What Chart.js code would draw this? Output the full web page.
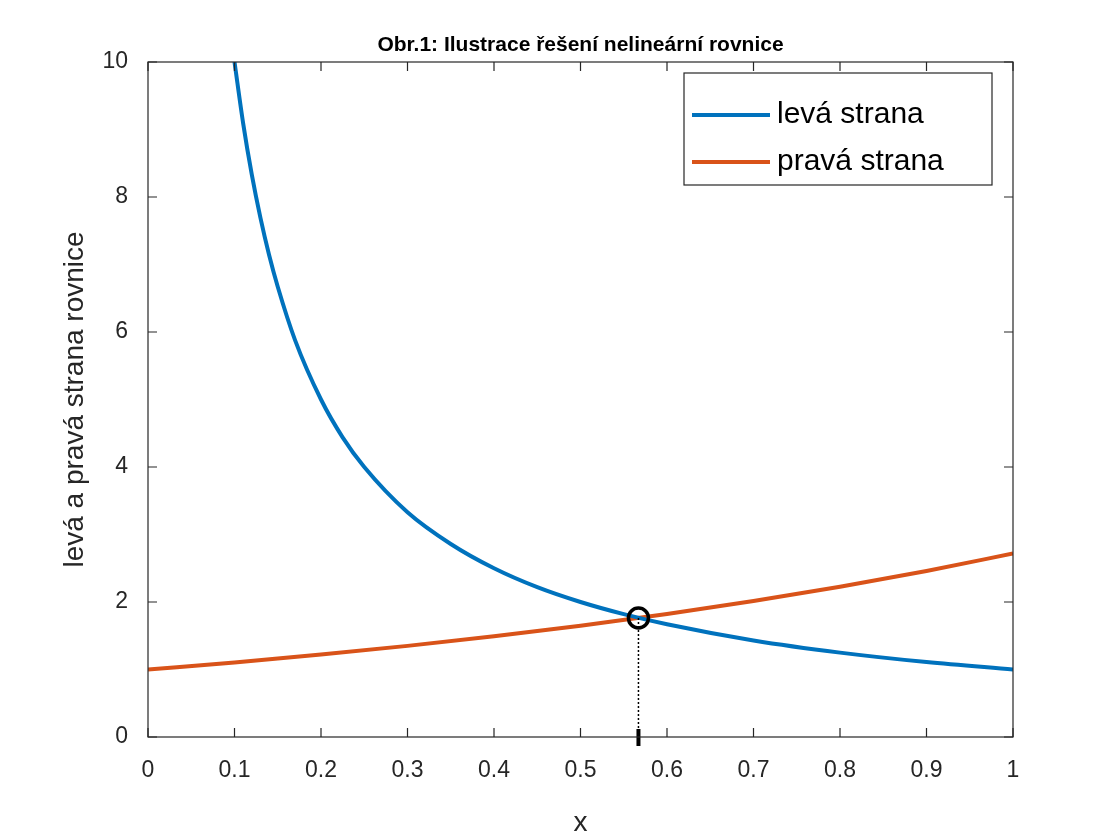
<!DOCTYPE html>
<html><head><meta charset="utf-8">
<script src="https://cdn.jsdelivr.net/npm/chart.js@4"></script>
<style>html,body{margin:0;padding:0;background:#fff}#c{display:block}</style>
</head><body>
<canvas id="c" width="1120" height="840"></canvas>
<script>
const titleText = "Obr.1: Ilustrace řešení nelineární rovnice";
const xLabel = "x";
const yLabel = "levá a pravá strana rovnice";
const seriesNames = ["levá strana", "pravá strana"];
const leftX = [0.1,0.11,0.12,0.13,0.14,0.15,0.17,0.2,0.225,0.25,0.3,0.35,0.4,0.45,0.5,0.55,0.6,0.7,0.8,0.9,1.0];
const leftY = [10,9.09,8.33,7.69,7.14,6.67,5.88,5.0,4.44,4.0,3.33,2.86,2.5,2.22,2.0,1.82,1.67,1.43,1.25,1.11,1.0];
const rightX = [0,0.1,0.2,0.3,0.4,0.5,0.6,0.7,0.8,0.9,1.0];
const rightY = [1.0,1.105,1.221,1.35,1.492,1.649,1.822,2.014,2.226,2.46,2.718];
const rootX = 0.567, rootY = 1.763;
const xTicks = [0,0.1,0.2,0.3,0.4,0.5,0.6,0.7,0.8,0.9,1];
const yTicks = [0,2,4,6,8,10];
const FONT = "'Liberation Sans', Arial, sans-serif";

const deco = {
  id:'deco',
  afterDraw(ch){
    const c=ch.ctx, a=ch.chartArea, xs=ch.scales.x, ys=ch.scales.y;
    c.save();
    const px=xs.getPixelForValue(rootX), py=ys.getPixelForValue(rootY), p0=ys.getPixelForValue(0);
    c.strokeStyle='#000'; c.lineWidth=1.5; c.setLineDash([2,2]);
    c.beginPath(); c.moveTo(px,py); c.lineTo(px,p0); c.stroke(); c.setLineDash([]);
    c.lineWidth=4; c.beginPath(); c.moveTo(px,p0-8); c.lineTo(px,p0+9); c.stroke();
    c.lineWidth=3.5; c.beginPath(); c.arc(px,py,10,0,Math.PI*2); c.stroke();
    c.strokeStyle='#262626'; c.lineWidth=1.2;
    c.strokeRect(a.left,a.top,a.right-a.left,a.bottom-a.top);
    c.beginPath();
    xTicks.forEach(v=>{const x=xs.getPixelForValue(v); c.moveTo(x,a.bottom); c.lineTo(x,a.bottom-9); c.moveTo(x,a.top); c.lineTo(x,a.top+9);});
    yTicks.forEach(v=>{const y=ys.getPixelForValue(v); c.moveTo(a.left,y); c.lineTo(a.left+9,y); c.moveTo(a.right,y); c.lineTo(a.right-9,y);});
    c.stroke();
    c.fillStyle='#000'; c.font="bold 21px "+FONT; c.textAlign='center'; c.textBaseline='middle';
    c.fillText(titleText,(a.left+a.right)/2,45);
    c.fillStyle='#fff'; c.fillRect(684,73,308,112);
    c.strokeStyle='#262626'; c.lineWidth=1.2; c.strokeRect(684,73,308,112);
    const cols=['#0072BD','#D95319'];
    c.font="30px "+FONT; c.textAlign='left';
    [115,162].forEach((y,i)=>{c.strokeStyle=cols[i]; c.lineWidth=4; c.beginPath(); c.moveTo(692,y); c.lineTo(770,y); c.stroke();
      c.fillStyle='#000'; c.fillText(seriesNames[i],777,y);});
    c.restore();
  }
};

new Chart(document.getElementById('c'),{
  type:'line',
  data:{datasets:[
    {label:seriesNames[0],data:leftX.map((x,i)=>({x,y:leftY[i]})),borderColor:'#0072BD',borderWidth:4,pointRadius:0,cubicInterpolationMode:'monotone'},
    {label:seriesNames[1],data:rightX.map((x,i)=>({x,y:rightY[i]})),borderColor:'#D95319',borderWidth:4,pointRadius:0,cubicInterpolationMode:'monotone'}
  ]},
  options:{
    responsive:false, animation:false, devicePixelRatio:1,
    layout:{padding:{top:62,right:107,left:0,bottom:0}},
    plugins:{legend:{display:false},tooltip:{enabled:false}},
    scales:{
      x:{type:'linear',min:0,max:1,
        afterFit(s){s.height=103;},
        afterBuildTicks(s){s.ticks=xTicks.map(v=>({value:v}));},
        grid:{display:false},border:{display:false},
        ticks:{color:'#262626',font:{family:FONT,size:23},padding:12,maxRotation:0,callback:v=>String(v)},
        title:{display:true,text:xLabel,color:'#262626',font:{family:FONT,size:28},padding:{top:0,bottom:0}}},
      y:{type:'linear',min:0,max:10,
        afterFit(s){s.width=148;},
        afterBuildTicks(s){s.ticks=yTicks.map(v=>({value:v}));},
        grid:{display:false},border:{display:false},
        ticks:{color:'#262626',font:{family:FONT,size:23},padding:12},
        title:{display:true,text:yLabel,color:'#262626',font:{family:FONT,size:28},padding:{top:58,bottom:0}}}
    }
  },
  plugins:[deco]
});
</script>
</body></html>
